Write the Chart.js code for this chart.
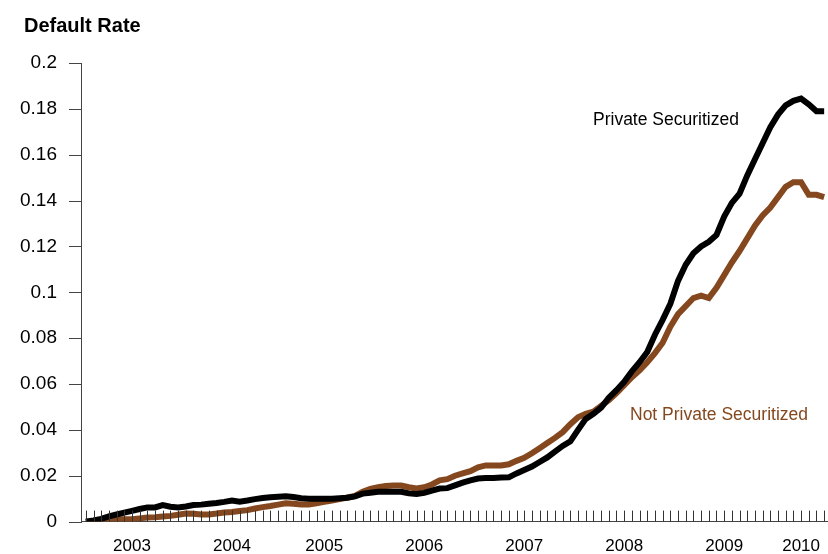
<!DOCTYPE html>
<html>
<head>
<meta charset="utf-8">
<title>Default Rate</title>
<script src="https://cdn.jsdelivr.net/npm/chart.js@4.4.1/dist/chart.umd.min.js"></script>
<style>
  html, body { margin: 0; padding: 0; background: #fff; }
  #wrap { width: 828px; height: 554px; position: relative; }
</style>
</head>
<body>
<div id="wrap"><canvas id="default-chart"></canvas></div>
<script>
// Monthly observations, mid-2002 through early 2010 (97 months)
const privateSecuritized = [
  0, 0.0005, 0.0012, 0.0023, 0.0031, 0.0039, 0.0047, 0.0055, 0.0062, 0.0062,
  0.0072, 0.0065, 0.0062, 0.0066, 0.0072, 0.0074, 0.0078, 0.0081, 0.0086, 0.0092,
  0.0087, 0.0092, 0.0098, 0.0103, 0.0106, 0.0108, 0.011, 0.0107, 0.0102, 0.010,
  0.010, 0.010, 0.010, 0.0102, 0.0104, 0.011, 0.0122, 0.0126, 0.013, 0.013,
  0.013, 0.013, 0.0123, 0.012, 0.0125, 0.0135, 0.0144, 0.0146, 0.0158, 0.017,
  0.018, 0.0188, 0.019, 0.019, 0.0192, 0.0193, 0.021, 0.0225, 0.024, 0.026,
  0.028, 0.0305, 0.033, 0.035, 0.040, 0.0448, 0.047, 0.0497, 0.054, 0.0573,
  0.061, 0.0655, 0.0695, 0.074, 0.0815, 0.088, 0.095, 0.105, 0.112, 0.117,
  0.120, 0.122, 0.125, 0.133, 0.139, 0.143, 0.151, 0.158, 0.165, 0.172,
  0.1775, 0.1815, 0.1835, 0.1845, 0.182, 0.179, 0.179
];

const notPrivateSecuritized = [
  0, 0, 0.0005, 0.001, 0.001, 0.001, 0.001, 0.0014, 0.0018, 0.0019,
  0.0022, 0.0025, 0.003, 0.0035, 0.0034, 0.0031, 0.0031, 0.0035, 0.004, 0.0042,
  0.0046, 0.005, 0.0057, 0.0063, 0.0068, 0.0074, 0.008, 0.0078, 0.0075, 0.0075,
  0.008, 0.0086, 0.0092, 0.0098, 0.0105, 0.0112, 0.013, 0.0143, 0.015, 0.0155,
  0.0157, 0.0157, 0.015, 0.0145, 0.015, 0.0162, 0.018, 0.0185, 0.020, 0.021,
  0.022, 0.0237, 0.0245, 0.0245, 0.0245, 0.025, 0.0265, 0.0278, 0.0298, 0.032,
  0.0343, 0.0365, 0.039, 0.0425, 0.0455, 0.047, 0.048, 0.0505, 0.053, 0.056,
  0.0595, 0.063, 0.066, 0.0695, 0.0735, 0.078, 0.085, 0.0905, 0.094, 0.0975,
  0.0985, 0.0975, 0.102, 0.1075, 0.113, 0.118, 0.1235, 0.129, 0.1335, 0.137,
  0.1415, 0.146, 0.148, 0.148, 0.1425, 0.1425, 0.1415
];

// Year labels and the month index each one sits under
const yearLabels = ["2003", "2004", "2005", "2006", "2007", "2008", "2009", "2010"];
const yearLabelIndex = [6, 19, 31, 44, 57, 70, 83, 93];

const yTicks = [0, 0.02, 0.04, 0.06, 0.08, 0.1, 0.12, 0.14, 0.16, 0.18, 0.2];

const BROWN = "#85481e";
const AXIS = "#444";
const FONT = "'Liberation Sans', Arial, Helvetica, sans-serif";

// one category per month, only the year positions carry text
const categories = privateSecuritized.map((_, i) => {
  const k = yearLabelIndex.indexOf(i);
  return k >= 0 ? yearLabels[k] : "";
});

// Draws title, series captions and the tick marks (y outward, x inward)
const decorations = {
  id: "decorations",
  afterDraw(chart) {
    const ctx = chart.ctx;
    const x = chart.scales.x;
    const y = chart.scales.y;
    ctx.save();

    ctx.lineWidth = 1;
    ctx.strokeStyle = "#333";
    ctx.beginPath();
    for (let i = 0; i < categories.length; i++) {
      const px = Math.round(x.getPixelForValue(i)) + 0.5;
      ctx.moveTo(px, y.bottom);
      ctx.lineTo(px, y.bottom - 11);
    }
    ctx.stroke();

    ctx.strokeStyle = AXIS;
    ctx.beginPath();
    yTicks.forEach((v) => {
      const py = Math.round(y.getPixelForValue(v)) + 0.5;
      ctx.moveTo(x.left - 13, py);
      ctx.lineTo(x.left, py);
    });
    ctx.stroke();

    ctx.textBaseline = "middle";
    ctx.textAlign = "left";
    ctx.fillStyle = "#000";
    ctx.font = "bold 20px " + FONT;
    ctx.fillText("Default Rate", 24, 26);

    ctx.font = "17.5px " + FONT;
    ctx.fillStyle = "#000";
    ctx.fillText("Private Securitized", 593, 120);
    ctx.fillStyle = BROWN;
    ctx.fillText("Not Private Securitized", 630, 415);
    ctx.restore();
  },
};

const chart = new Chart(document.getElementById("default-chart"), {
  type: "line",
  data: {
    labels: categories,
    datasets: [
      {
        label: "Private Securitized",
        data: privateSecuritized,
        borderColor: "#000",
        borderWidth: 6,
        pointRadius: 0,
        pointHoverRadius: 0,
        tension: 0,
      },
      {
        label: "Not Private Securitized",
        data: notPrivateSecuritized,
        borderColor: BROWN,
        borderWidth: 6,
        pointRadius: 0,
        pointHoverRadius: 0,
        tension: 0,
      },
    ],
  },
  options: {
    responsive: true,
    maintainAspectRatio: false,
    animation: false,
    layout: { autoPadding: false, padding: { top: 63, left: 20, right: 0, bottom: -3 } },
    plugins: {
      legend: { display: false },
      tooltip: { enabled: false },
    },
    scales: {
      x: {
        type: "category",
        offset: true,
        grid: {
          display: true,
          drawOnChartArea: false,
          drawTicks: true,
          tickLength: 15,
          color: "transparent",
        },
        border: { display: true, color: AXIS, width: 1 },
        ticks: {
          autoSkip: false,
          maxRotation: 0,
          padding: 0,
          color: "#000",
          font: { family: FONT, size: 17 },
        },
      },
      y: {
        min: 0,
        max: 0.2,
        afterBuildTicks: (scale) => {
          scale.ticks = yTicks.map((v) => ({ value: v }));
        },
        grid: {
          display: true,
          drawOnChartArea: false,
          drawTicks: true,
          tickLength: 25,
          color: "transparent",
        },
        border: { display: true, color: AXIS, width: 1 },
        ticks: {
          padding: 0,
          color: "#000",
          font: { family: FONT, size: 19 },
          callback: (v) => String(Number(v.toFixed(2))),
        },
      },
    },
  },
  plugins: [decorations],
});
</script>
</body>
</html>
